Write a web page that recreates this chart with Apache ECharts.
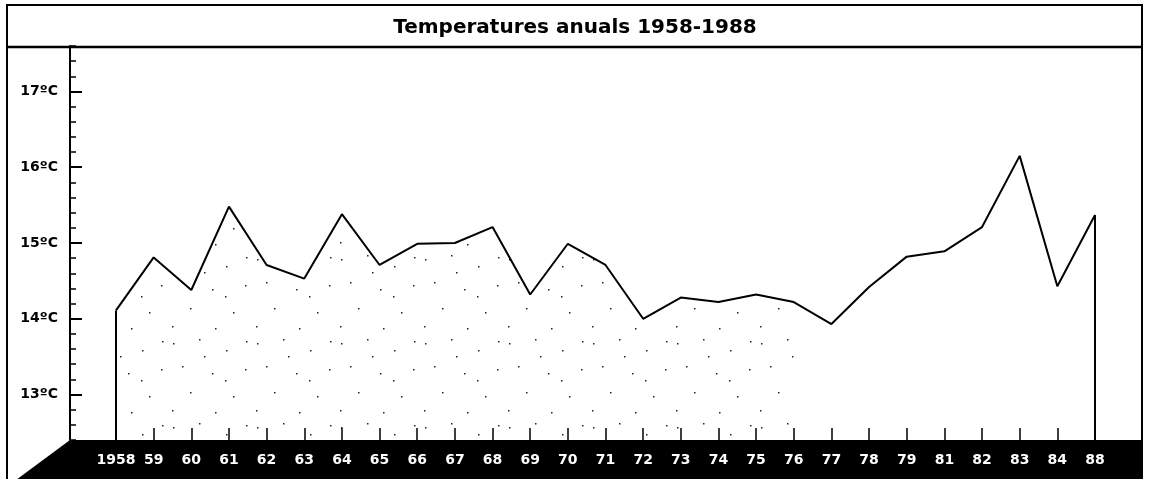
<!DOCTYPE html>
<html>
<head>
<meta charset="utf-8">
<script src="https://cdn.jsdelivr.net/npm/echarts@6/dist/echarts.min.js"></script>
<style>
  html, body { margin: 0; padding: 0; background: #fff; }
  #chart { width: 1150px; height: 479px; }
</style>
</head>
<body>
<div id="chart"></div>
<script>
// anys (el 80 i del 85 al 87 no surten)
const years = ['1958', '59', '60', '61', '62', '63', '64', '65', '66', '67', '68', '69', '70',
  '71', '72', '73', '74', '75', '76', '77', '78', '79', '81', '82', '83', '84', '88']
// temperatura mitjana anual, ºC (llegida del gràfic)
const temps = [14.11, 14.81, 14.38, 15.48, 14.71, 14.53, 15.38, 14.71, 14.99, 15.0, 15.21, 14.32, 14.99,
  14.71, 14.0, 14.28, 14.22, 14.32, 14.22, 13.93, 14.42, 14.82, 14.89, 15.21, 16.15, 14.43, 15.37]
const yLabels = [13, 14, 15, 16, 17]
const yMin = 12.4
const yMax = 17.6
const lastDotted = years.indexOf('76')  // el puntejat s'acaba cap al 76

const FONT = 'DejaVu Sans'

// trama de punts per a l'àrea
function dotPattern() {
  const c = document.createElement('canvas')
  c.width = 84
  c.height = 84
  const ctx = c.getContext('2d')
  ctx.fillStyle = '#222'
  const dots = [[5, 7], [31, 3], [58, 14], [77, 33], [14, 30], [44, 37], [22, 56], [65, 60], [4, 74], [47, 76], [36, 20], [78, 5], [57, 44]]
  dots.forEach(([x, y]) => ctx.fillRect(x, y, 1.5, 1.5))
  return c
}

const chart = echarts.init(document.getElementById('chart'))

const option = {
  animation: false,
  backgroundColor: '#fff',
  title: {
    text: 'Temperatures anuals 1958-1988',
    left: 'center',
    top: 13,
    textStyle: { fontFamily: FONT, fontSize: 20, fontWeight: 'bold', color: '#000' }
  },
  graphic: [
    { type: 'rect', z: 0, shape: { x: 7, y: 5, width: 1135, height: 480 },
      style: { fill: null, stroke: '#000', lineWidth: 2 } },
    { type: 'line', z: 0, shape: { x1: 7, y1: 47, x2: 1142, y2: 47 },
      style: { stroke: '#000', lineWidth: 2.5 } },
    { type: 'polygon', z: 0, shape: { points: [[70, 440], [1142, 440], [1142, 480], [16, 480]] },
      style: { fill: '#000' } }
  ],
  grid: { left: 116, right: 55, top: 46, bottom: 39 },
  xAxis: {
    type: 'category',
    data: years,
    boundaryGap: false,
    z: 5,
    axisLine: { show: false },
    axisTick: { show: true, inside: true, length: 12, alignWithLabel: true, lineStyle: { color: '#000', width: 1.5 } },
    axisLabel: { color: '#fff', fontFamily: FONT, fontWeight: 'bold', fontSize: 14, margin: 13, interval: 0 },
    splitLine: { show: false }
  },
  yAxis: [
    {
      type: 'value', min: yMin, max: yMax, interval: 0.2, offset: 46, z: 5,
      axisLine: { show: true, lineStyle: { color: '#000', width: 2 } },
      axisTick: { show: true, inside: true, length: 6, lineStyle: { color: '#000', width: 1.5 } },
      axisLabel: { show: false },
      splitLine: { show: false }
    },
    {
      type: 'value', min: yMin, max: yMax, offset: 46, position: 'left', z: 5,
      axisLine: { show: false },
      axisTick: { show: true, inside: true, length: 12, customValues: yLabels, lineStyle: { color: '#000', width: 2 } },
      axisLabel: {
        customValues: yLabels, margin: 12, color: '#000',
        fontFamily: FONT, fontWeight: 'bold', fontSize: 14,
        formatter: v => v + 'ºC'
      },
      splitLine: { show: false }
    }
  ],
  series: [
    {
      type: 'line',
      data: temps.map((v, i) => (i <= lastDotted ? v : null)),
      showSymbol: false,
      lineStyle: { width: 0 },
      areaStyle: { color: { image: dotPattern(), repeat: 'repeat' }, opacity: 1, origin: 'start' },
      silent: true,
      z: 1
    },
    {
      type: 'line',
      data: temps,
      showSymbol: false,
      lineStyle: { color: '#000', width: 2 },
      silent: true,
      z: 3,
      markLine: {
        symbol: 'none',
        silent: true,
        label: { show: false },
        lineStyle: { color: '#000', width: 2, type: 'solid' },
        data: [
          [{ coord: [years[0], temps[0]] }, { coord: [years[0], yMin] }],
          [{ coord: [years[years.length - 1], temps[temps.length - 1]] }, { coord: [years[years.length - 1], yMin] }]
        ]
      }
    }
  ]
}

chart.setOption(option)
</script>
</body>
</html>
